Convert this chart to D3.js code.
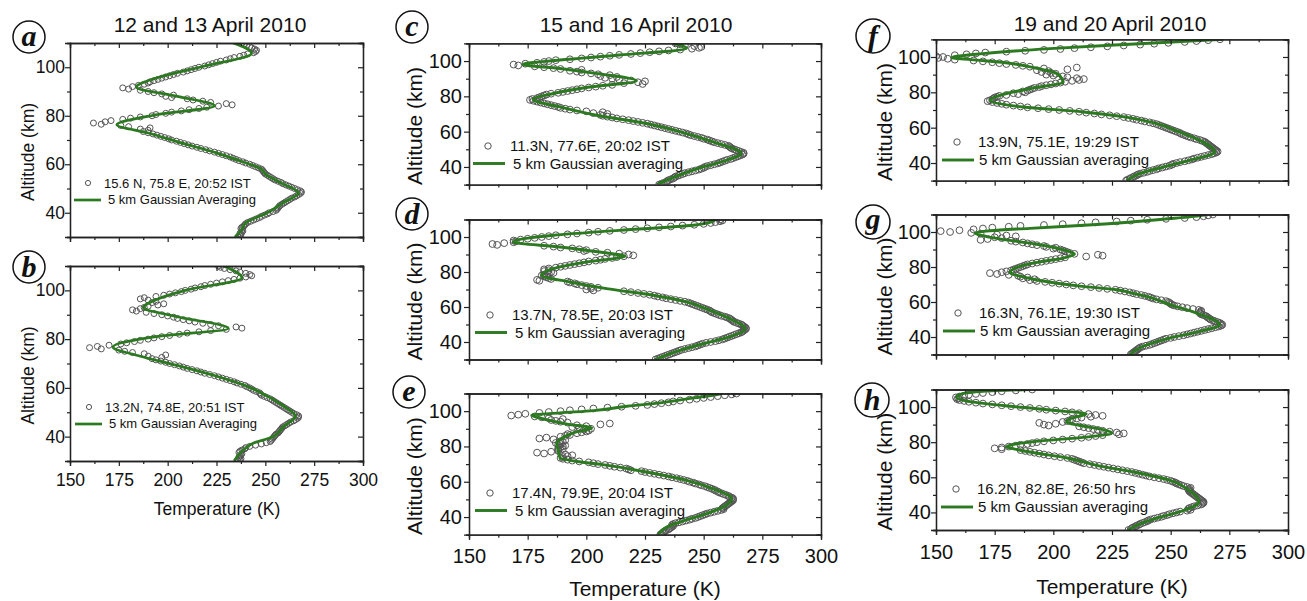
<!DOCTYPE html>
<html><head><meta charset="utf-8">
<script src="https://cdn.jsdelivr.net/npm/d3@7"></script>
<style>
body{margin:0;background:#fff}
svg{display:block}
text{font-family:"Liberation Sans",Arial,sans-serif;fill:#111}
text.letter{font-family:"Liberation Serif","Times New Roman",serif;font-style:italic;font-weight:bold}
</style>
</head><body>
<svg id="chart" width="1307" height="601"></svg>
<script>
// ---------------- DATA ----------------
const altitudes = [
30,30.5,31,31.5,32,32.5,33,33.5,34,34.5,
35,35.5,36,36.5,37,37.5,38,38.5,39,39.5,
40,40.5,41,41.5,42,42.5,43,43.5,44,44.5,
45,45.5,46,46.5,47,47.5,48,48.5,49,49.5,
50,50.5,51,51.5,52,52.5,53,53.5,54,54.5,
55,55.5,56,56.5,57,57.5,58,58.5,59,59.5,
60,60.5,61,61.5,62,62.5,63,63.5,64,64.5,
65,65.5,66,66.5,67,67.5,68,68.5,69,69.5,
70,70.5,71,71.5,72,72.5,73,73.5,74,74.5,
75,75.5,76,76.5,77,77.5,78,78.5,79,79.5,
80,80.5,81,81.5,82,82.5,83,83.5,84,84.5,
85,85.5,86,86.5,87,87.5,88,88.5,89,89.5,
90,90.5,91,91.5,92,92.5,93,93.5,94,94.5,
95,95.5,96,96.5,97,97.5,98,98.5,99,99.5,
100,100.5,101,101.5,102,102.5,103,103.5,104,104.5,
105,105.5,106,106.5,107,107.5,108,108.5,109,109.5,
110];

const xTicks = [150,175,200,225,250,275,300];
const xMinorTicks = [162.5,187.5,212.5,237.5,262.5,287.5];
const yTicks = [40,60,80,100];
const yMinorTicks = [30,50,70,90,110];
const columnTitles = ["12 and 13 April 2010","15 and 16 April 2010","19 and 20 April 2010"];
const panelLetters = ["a","b","c","d","e","f","g","h"];
const pointLabels = ["15.6 N, 75.8 E, 20:52 IST","13.2N, 74.8E, 20:51 IST","11.3N, 77.6E, 20:02 IST","13.7N, 78.5E, 20:03 IST","17.4N, 79.9E, 20:04 IST","13.9N, 75.1E, 19:29 IST","16.3N, 76.1E, 19:30 IST","16.2N, 82.8E, 26:50 hrs"];
const lineLabels = ["5 km Gaussian Averaging","5 km Gaussian Averaging","5 km Gaussian averaging","5 km Gaussian averaging","5 km Gaussian averaging","5 km Gaussian averaging","5 km Gaussian averaging","5 km Gaussian averaging"];
const xTitle = "Temperature (K)";
const yTitle = "Altitude (km)";

// raw temperatures (K) at the altitudes above
const rawA = [
236,237,237.5,237,238,238.5,238,237.5,238,239,
239.5,240,241,242.5,244,245.5,247,248,249.5,251,
252,254,255.5,256,256.5,257,257.5,258.5,259.5,260.5,
261.5,262.5,263.5,265,266,267,268,268.5,268,266.5,
265,263.5,262,260.5,259,258,256.5,255,254,253,
252,251,250,249.5,249,248.5,248,246.5,245,243.5,
242,240,238.5,236.5,235,233.5,232,230,228,226,
224,221.5,219.5,217,215,212.5,210.5,208.5,206.5,204.5,
202,200.5,198.5,196.5,194.5,192.5,190,187.5,190,186,
191,180,176,166,162,168,171,177,181,186,
192,194,199,202,207,211,216,220,226,233,
230,222,218,213,210,202,199,203,197,193,
190,186,180,177,182,185,188,190,191,193,
195,197,199,201,203,205,208,210,212,214,
216,219,221,223,225,227,230,232,234,237,
239,241,244,245,245.5,244.5,243,242,240.5,239,
238];
const rawB = [
236,237,237.5,236.5,237,237.5,238,236.5,237,238,
239.5,240,242,245,248,250.5,252.5,253,253.5,254,
254.5,255,255.5,256.5,257,257.5,258,258.5,259,260,
261,262,263,264.5,265.5,266.5,267,267,266,264.5,
263.5,262.5,261.5,260.5,259.5,258.5,257.5,256.5,255.5,254.5,
253.5,252.5,251,249.5,248,247.5,247,245.5,244,243,
242,240.5,239.5,237.5,235.5,234,232,230,228,226,
224,221.5,219,217,215,212.5,210,208,206,203.5,
201,199,196.5,194,192,197,190,199,188,182,
178,175,166,160,164,170,176,179,183,186,
190,193,197,201,206,210,216,222,230,238,
235,226,222,218,214,211,208,205,203,200,
197,193,189,184,182,186,188,190,195,198,
192,194,190,186,188,194,198,201,204,207,
209,212,214,217,219,222,225,228,231,234,
237,240,243,242,240,237,235,232,229,227,
226];
const rawC = [
231,232,233,234,234.5,235,236,237,237.5,238,
239,240,241,242,243.5,245,246.5,248,249,250,
250.5,251.5,253,254.5,256,257,258,259,260,261.5,
262.5,263.5,264.5,265.5,266.5,267,267,266,265,264,
263,262,261.5,261,260.5,259,257.5,256,254.5,253.5,
252.5,251.5,250,249,247.5,246,244.5,243.5,242.5,241,
239.5,238,236.5,235,233.5,232,230.5,229,227.5,226,
224,222,220,218,215.5,213,211,209,207,206,
209,203,207,200,196,193,191,189,188,186.5,
185,183.5,182,180.5,179,177.5,176,177,179,180,
181,182,183,185,188,190,192,194,196,198,
201,204,207,211,224,216,222,225,219,214,
211,208,213,206,210,205,202,198,196,193,
198,189,186,182,178,171,169,174,179,182,
184,187,193,198,202,206,210,214,219,223,
227,231,235,240,245,248,249,246,242,240,
238];
const rawD = [
229.5,230.5,231.5,232.5,233.5,234.5,235.5,236.5,237.5,238.5,
239.5,240.5,242,243.5,245,246.5,247.5,248.5,249.5,251,
253,255,256.5,258,259,260,261,262,263,264,
265,266,266.5,267,267.5,268,268,267.5,267,266.5,
266,265,264,263,262.5,262,261.5,261,260,259,
257.5,256.5,255.5,254.5,253.5,253,252.5,251.5,250.5,249.5,
248.5,247.5,246.5,245.5,244.5,243.5,242,240,238,236,
234,232.5,230.5,229,227,224.5,222,219,216,203,
200,202,205,202,200,198,196,195,193,192,
180,179,185,184,183,182,181,182,184,186,
185,182,184,182,184,187,189,191,193,195,
197,199,201,204,206,208,211,213,216,220,
218,214,209,204,199,200,197,194,189,186,
182,162,160,165,169,170,169,172,175,178,
181,184,187,192,196,201,205,210,216,221,
226,231,236,241,246,250,253,255,257,258,
257];
const rawE = [
231.5,232,232.5,233,233.5,234,235,235.5,236,236.5,
237,236.5,237,238,239.5,241,242.5,244,245,246.5,
247.5,248.5,249.5,250.5,251.5,253,254.5,256,257.5,258.5,
258,258.5,259,259.5,260,260.5,261,261.5,262,262.5,
262.5,262.5,262,261,260.5,259.5,258.5,257.5,256.5,256,
255,254.5,253.5,252.5,251.5,250.5,249,248,246.5,245.5,
244,243,241.5,240,238.5,236.5,235,233,231,229,
227,225,223.5,219,218,217,214.5,212,210,208,
205,203,201,197,194,192,190,189,190,192,
194,191,182,179,185,188,188,190,188,189,
190,191,188,189,187,190,189,191,186,180,
183,189,191,193,192,196,198,200,201,199,
202,197,194,200,196,206,210,192,189,187,
185,190,184,181,178,168,171,174,180,184,
189,193,198,203,209,215,221,226,229,232,
235,237,240,244,247,250,253,256,259,262,
264];
const rawF = [
231,231.5,232.5,233,234,234.5,235.5,236,237,238.5,
240,241,242.5,244,245,246.5,248,249.5,250.5,251,
252.5,254,256,257.5,259,260,261.5,263,264.5,266,
267.5,268.5,269.5,270,269.5,269,268.5,268,267.5,267,
266.5,266,265.5,265,264.5,263.5,262.5,261,260,258.5,
257.5,256.5,255.5,254.5,254,253,252,251,250,249,
248,247,246,245,244,242.5,241,239,237.5,235.5,
234,232,230,227,224,220.5,217.5,214,211,207,
202.5,198,193.5,189,186,183,180,178,176,174,
172,173,174,174.5,175,176,177,180,185,183,
188,187,189,190,191,192,194,195,197,199,
201,203,205,208,211,213,210,206,204,200,
197,201,199,195,198,193,206,196,210,190,
187,184,180,177,174,170,166,158,155,151,
153,150,158,163,167,171,180,188,196,203,
209,216,223,230,237,243,249,256,261,266,
271];
const rawG = [
233,233.5,234,234.5,235,235.5,236,236.5,237,238,
239.5,241,242,243,244,245,246,247,248,250,
251.5,253.5,255.5,257,258.5,260,261.5,263,264.5,266,
267.5,269,270.5,271.5,272,271.5,271,270,269,268,
267,266.5,266,265.5,265,264,263,262.5,262.5,263,
263,262,259.5,257,255,253,251.5,250.5,250,249.5,
249,248,246,244,242.5,241.5,240.5,239,237.5,235.5,
234,232.5,230.5,228.5,226.5,223,219.5,216,212,208.5,
205.5,202.5,199.5,196.5,193,190,192,187,189,186,
185,181,176,173,178,180,182,183,184,185,
186,187,188,189,191,193,195,197,199,201,
203,205,214,221,219,209,207,206,205,204,
203,200,201,197,196,193,191,189,187,184,
182,169,172,178,175,184,180,176,169,165,
156,152,160,166,170,174,181,186,196,204,
212,218,227,233,240,248,256,261,264,266,
268];
const rawH = [
232,233,233.5,234,235,235.5,236.5,237,238,239,
240,240.5,241.5,243,244.5,246,247,248.5,249.5,251,
252.5,254,257,258.5,257.5,258,259,260,261.5,263,
263.5,264,264,263.5,263,262.5,262,261.5,261,260.5,
260,259.5,259,258.5,258,258,257.5,258,258.5,257,
255.5,254.5,253.5,252.5,252,251,250,248.5,247,245,
243,241,239.5,238,236.5,235,233.5,231.5,229.5,227.5,
225.5,223.5,221.5,219.5,217.5,215.5,213,212,211,210,
209,208,206,203,200.5,198,196,194,192,190,
188,186,178,175,178,181,184,186,189,191,
193,196,200,204,208,212,215,218,221,228,
230,227,224,221,219,217,215,213,211,198,
196,201,194,204,206,207,208,210,212,216,
221,218,215,211,208,205,201,197,194,190,
186,182,178,174,170,167,164,162,160,159,
159.5,158.5,160,162,164,167,170,174,178,184,
191];

// 5 km Gaussian averaged profiles: [altitude km, temperature K]
const lineA = [[30,234.5],[33.2,238],[35.9,240],[40,251],[44.1,259],[48.2,267],[52.3,258],[56,250],[58,248],[60,242],[62,235],[64.7,225],[68.8,207],[72.9,190],[76.3,174],[80.4,194],[84.1,224],[88,205],[91.8,184],[96,196],[100.3,218],[105.8,243],[110,233.6]];
const lineB = [[30,234],[34.7,239],[37.4,244],[40,254],[44.2,259.4],[48.4,265.4],[52.5,259.4],[56.6,251],[60.7,240.6],[64.8,225.2],[68.9,206.4],[73,186],[76.8,172],[81.2,196],[84.4,231],[89.5,203],[92.9,187.6],[96.3,194.4],[100,209],[105.2,238],[110,228.6]];
const lineC = [[30,230],[36.2,241.3],[40,249.8],[43.8,259.8],[47.6,266],[54.2,254],[58.9,242.7],[64.6,225.6],[69.3,204.3],[74,188.7],[78.2,177.3],[81.6,186],[85,200],[88.8,221.4],[93,204],[95.8,188.7],[98.1,173],[100.6,188.7],[103.4,214],[107.2,242.7],[110,237]];
const lineD = [[30,229.2],[35.2,239.9],[39,249.8],[42.9,261],[47.6,267.6],[53.3,261.2],[58.1,252.7],[62.9,242.7],[66.7,228.5],[70.5,208.6],[74.3,193],[78.1,180.9],[82.9,188.7],[85.7,200],[89,216.4],[91.4,205.7],[94.3,188.7],[97.1,168.8],[101,186],[103.8,214],[106.7,245.5],[108.5,253],[110,255]];
const lineE = [[30,230.6],[34.3,234.2],[37.2,240],[41.9,251.2],[45.7,258.3],[50.4,261.9],[56,254],[60.8,242.7],[65.5,225.6],[69.7,207],[71.5,196],[73.5,188.8],[77.2,188.1],[82,187.4],[83.9,188.8],[87.7,194.5],[90.5,202.3],[92.4,193],[95.2,183],[97.7,176.7],[99,188.8],[100.3,203],[102.8,217.3],[104.7,231.5],[107.5,245.7],[109.4,255.7],[110,258]];
const lineF = [[30,231.2],[34,236.8],[37.7,246.8],[41.5,258],[46.2,268.8],[52.8,262.4],[57.5,253.9],[62.3,244],[66,231],[68.9,212.7],[71.7,187.2],[75.5,173],[78.3,177.2],[82.1,190],[85.8,204.2],[88,203.5],[91,201],[93,195],[95,188],[97,178],[98.5,165],[99.6,156.7],[101.9,170],[104.7,198.5],[107.5,236.8],[110,272.3]];
const lineG = [[30,232.6],[34.7,238.3],[39.4,249.6],[43.2,262.4],[47,270.9],[53.7,261],[58.5,249.6],[63.2,239.7],[65.4,232.7],[67,227],[69.1,211.3],[72.3,194.3],[74.8,185.8],[76.7,181.5],[80.4,185.8],[82.9,194.3],[85.1,204.2],[87.5,209],[89.8,204.2],[93,192.9],[94.9,182.9],[97.4,171.6],[99.3,166.6],[100.7,173],[102.1,190],[104.3,218.5],[107.3,246.9],[109.6,263.9],[110,265]];
const lineH = [[30,232],[33.5,237],[37.3,245.5],[41.1,255.5],[45.9,262],[53.5,256.9],[58.2,249.8],[63,234.2],[66.8,218.5],[71,206],[74.4,190],[75.7,185],[77.2,180],[79.1,184.4],[81,197],[82.9,214.2],[85.4,224.9],[87.1,221.3],[89.5,211.4],[91.4,205.7],[93.3,207],[96.2,214],[97.7,204],[100.3,183],[102.8,166],[105.6,158.8],[107.5,161],[109,170],[110,190]];

const rawSeries = [rawA,rawB,rawC,rawD,rawE,rawF,rawG,rawH];
const lineSeries = [lineA,lineB,lineC,lineD,lineE,lineF,lineG,lineH];

// ---------------- LAYOUT ----------------
const layout = [
 {x0:70, x1:363, y0:43,   y1:237,   col:0, xLab:false, lab:[29,37],  leg:[88,183]},
 {x0:70, x1:363, y0:266,  y1:461,   col:0, xLab:true,  lab:[29,267], leg:[89,407]},
 {x0:469,x1:821, y0:43.4, y1:184.6, col:1, xLab:false, lab:[412,27], leg:[488,146]},
 {x0:469,x1:821, y0:219.5,y1:359.5, col:1, xLab:false, lab:[412,214],leg:[490,315]},
 {x0:469,x1:821, y0:393.5,y1:534.7, col:1, xLab:true,  lab:[409,392],leg:[490,493]},
 {x0:936,x1:1288,y0:39.3, y1:180.7, col:2, xLab:false, lab:[873,36], leg:[957,142]},
 {x0:936,x1:1288,y0:214.5,y1:354.5, col:2, xLab:false, lab:[873,222],leg:[958,313]},
 {x0:936,x1:1288,y0:389.5,y1:530,   col:2, xLab:true,  lab:[872,400],leg:[956,489]}
];
const colStyle = [
 {tick:17.5,title:17.5,legend:13,r:3,lr:2.6,lw:2.7,yTitleX:28, xTitleX:217, xTitleY:515, headX:210, headY:32, ylPad:0, xlPad:8,
  t1dx:16,l0:-14,l1:13,ldy:17,t2dx:20,t2dy:21, labR:16},
 {tick:20,title:21,legend:15,r:3.4,lr:3.2,lw:2.9,yTitleX:414, xTitleX:645, xTitleY:596, headX:636, headY:32, ylPad:2, xlPad:9,
  t1dx:22,l0:-15,l1:17,ldy:17.5,t2dx:25,t2dy:22.5, labR:16},
 {tick:20,title:21,legend:15,r:3.4,lr:3.2,lw:2.9,yTitleX:884, xTitleX:1112, xTitleY:594, headX:1110, headY:31, ylPad:0, xlPad:10,
  t1dx:21,l0:-15,l1:17,ldy:18,t2dx:22,t2dy:23, labR:17}
];
const letterDy = {a:9,b:10,c:9,d:10,e:9,f:10,g:7,h:10};
const GREEN = "#2b7a20";
const CIRCLE = "#555";

const svg = d3.select("#chart");
const defs = svg.append("defs");

// column headings
colStyle.forEach((cs,i)=>{
  svg.append("text").attr("x",cs.headX).attr("y",cs.headY)
    .attr("text-anchor","middle").attr("font-size",21).text(columnTitles[i]);
});

layout.forEach((L,i)=>{
  const cs = colStyle[L.col];
  const x = d3.scaleLinear().domain([150,300]).range([L.x0,L.x1]);
  const y = d3.scaleLinear().domain([30,110]).range([L.y1,L.y0]);
  const g = svg.append("g");

  defs.append("clipPath").attr("id","clip"+i).append("rect")
    .attr("x",L.x0).attr("y",L.y0).attr("width",L.x1-L.x0).attr("height",L.y1-L.y0);

  // data
  const plot = g.append("g").attr("clip-path",`url(#clip${i})`);
  const raw = rawSeries[i];
  plot.selectAll("circle").data(altitudes.map((a,k)=>[a,raw[k]])).join("circle")
    .attr("cx",d=>x(d[1])).attr("cy",d=>y(d[0])).attr("r",cs.r)
    .attr("fill","none").attr("stroke",CIRCLE).attr("stroke-width",1);
  const line = d3.line().x(d=>x(d[1])).y(d=>y(d[0])).curve(d3.curveMonotoneY);
  plot.append("path").datum(lineSeries[i].slice().reverse()).attr("d",line)
    .attr("fill","none").attr("stroke",GREEN).attr("stroke-width",cs.lw).attr("stroke-linejoin","round");

  // axes
  const styleAxis = sel => { sel.select(".domain").attr("stroke","#222").attr("stroke-width",1.3);
    sel.selectAll(".tick line").attr("stroke","#222").attr("stroke-width",1.2);
    sel.selectAll(".tick text").attr("font-size",cs.tick).attr("fill","#111"); };

  g.append("g").attr("transform",`translate(0,${L.y1})`)
    .call(d3.axisBottom(x).tickValues(xTicks).tickSize(5).tickPadding(cs.xlPad)
      .tickFormat(L.xLab ? d3.format("d") : ()=>"")).call(styleAxis);
  g.append("g").attr("transform",`translate(0,${L.y1})`)
    .call(d3.axisBottom(x).tickValues(xMinorTicks).tickSize(3).tickFormat(()=>"")).call(styleAxis);
  g.append("g").attr("transform",`translate(0,${L.y0})`)
    .call(d3.axisTop(x).tickValues(xTicks).tickSize(-5).tickFormat(()=>"")).call(styleAxis);
  g.append("g").attr("transform",`translate(0,${L.y0})`)
    .call(d3.axisTop(x).tickValues(xMinorTicks).tickSize(-3).tickFormat(()=>"")).call(styleAxis);
  g.append("g").attr("transform",`translate(${L.x0},0)`)
    .call(d3.axisLeft(y).tickValues(yTicks).tickSize(5).tickPadding(cs.ylPad).tickFormat(d3.format("d"))).call(styleAxis);
  g.append("g").attr("transform",`translate(${L.x0},0)`)
    .call(d3.axisLeft(y).tickValues(yMinorTicks).tickSize(3).tickFormat(()=>"")).call(styleAxis);
  g.append("g").attr("transform",`translate(${L.x1},0)`)
    .call(d3.axisRight(y).tickValues(yTicks).tickSize(-5).tickFormat(()=>"")).call(styleAxis);
  g.append("g").attr("transform",`translate(${L.x1},0)`)
    .call(d3.axisRight(y).tickValues(yMinorTicks).tickSize(-3).tickFormat(()=>"")).call(styleAxis);

  // axis titles
  const yc = (L.y0+L.y1)/2 + 12;
  g.append("text").attr("transform",`translate(${cs.yTitleX},${yc}) rotate(-90)`)
    .attr("text-anchor","middle").attr("dominant-baseline","central")
    .attr("font-size",cs.title).text(yTitle);
  if (L.xLab) {
    g.append("text").attr("x",cs.xTitleX).attr("y",cs.xTitleY).attr("text-anchor","middle")
      .attr("font-size",cs.title).text(xTitle);
  }

  // legend
  const [lx,ly] = L.leg;
  g.append("circle").attr("cx",lx).attr("cy",ly).attr("r",cs.lr)
    .attr("fill","none").attr("stroke",CIRCLE).attr("stroke-width",1);
  g.append("text").attr("x",lx+cs.t1dx).attr("y",ly+5).attr("font-size",cs.legend).text(pointLabels[i]);
  g.append("line").attr("x1",lx+cs.l0).attr("x2",lx+cs.l1).attr("y1",ly+cs.ldy).attr("y2",ly+cs.ldy)
    .attr("stroke",GREEN).attr("stroke-width",cs.lw);
  g.append("text").attr("x",lx+cs.t2dx).attr("y",ly+cs.t2dy).attr("font-size",cs.legend).text(lineLabels[i]);

  // panel letter
  const [cx,cy] = L.lab;
  g.append("circle").attr("cx",cx).attr("cy",cy).attr("r",cs.labR)
    .attr("fill","#fff").attr("stroke","#111").attr("stroke-width",1.5);
  g.append("text").attr("class","letter").attr("x",cx).attr("y",cy+letterDy[panelLetters[i]])
    .attr("text-anchor","middle").attr("font-size",30).text(panelLetters[i]);
});
</script>
</body></html>
